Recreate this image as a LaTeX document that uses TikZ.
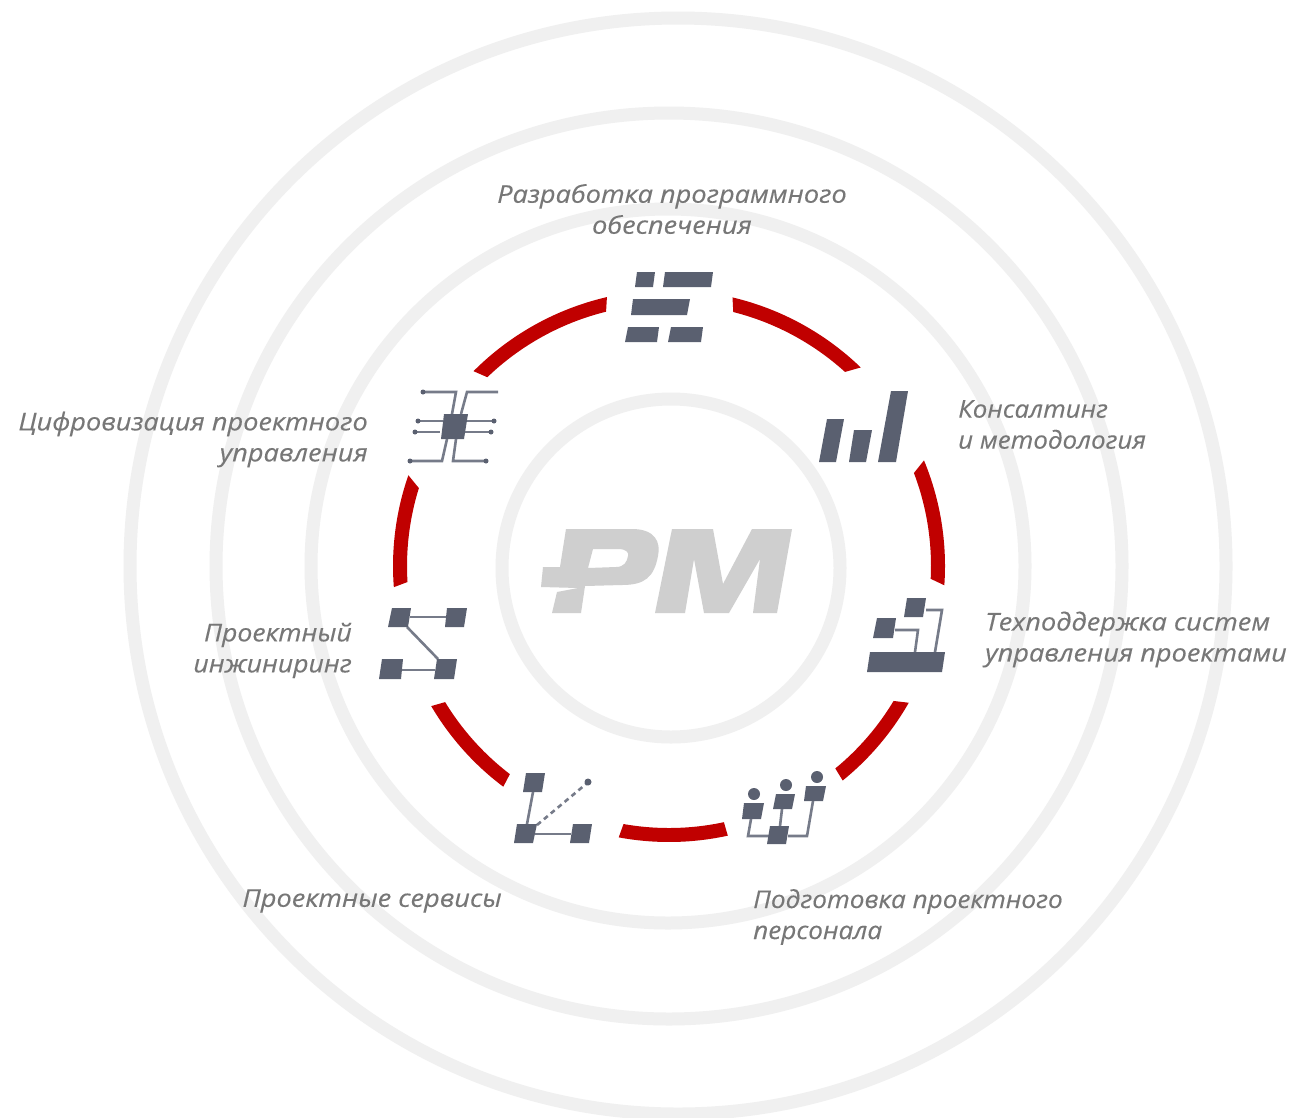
\documentclass[tikz,border=0pt]{standalone}
\usepackage{fontspec}
\setmainfont[FakeStretch=1.108,ItalicFeatures={FakeBold=0.25}]{Open Sans}
\definecolor{ringc}{HTML}{F0F0F0}
\definecolor{redc}{HTML}{C00000}
\definecolor{iconc}{HTML}{5A6070}
\definecolor{linkc}{HTML}{767B89}
\definecolor{logoc}{HTML}{CFCFCF}
\definecolor{textc}{HTML}{777777}
\tikzset{
  ring/.style={draw=ringc,line width=13pt},
  redarc/.style={fill=redc,draw=none},
  icon/.style={fill=iconc,draw=none},
  link/.style={draw=linkc,line width=2.6pt},
  label/.style={text=textc,inner sep=0pt,font=\fontsize{24.5}{31}\selectfont\itshape},
  stretched/.style={text=textc,inner sep=0pt,font=\fontsize{24.5}{31}\selectfont\itshape\addfontfeature{FakeStretch=#1}},
}
\begin{document}
\begin{tikzpicture}[x=1pt,y=-1pt]
\useasboundingbox (0,0) rectangle (1289,1117);
\fill[white] (0,0) rectangle (1289,1117);
\coordinate (c) at (669,566);
\draw[ring] (671,568) circle[radius=169];
\draw[ring] (668,566) circle[radius=357];
\draw[ring] (669,566) circle[radius=453];
\draw[ring] (678,566) circle[radius=548];
% red arcs: outer start / inner start / outer end / inner end angles
\foreach \a/\b/\e/\f in {-76.7/-75.8/-46/-47.8, -22.5/-20.8/4/2.8, 29.7/31/51/50.6, 77.7/77.9/100.5/100,
  126.9/127.4/149.5/148.7, 175.6/176.5/199.2/197.3, 224.9/226.1/257/256.1}{
  \fill[redarc] ([shift={(\a:276)}]c) arc[start angle=\a,end angle=\e,radius=276]
     -- ([shift={(\f:262)}]c) arc[start angle=\f,end angle=\b,radius=262] -- cycle;
}
% logo
\fill[logoc,even odd rule] (566,529) -- (632,529) .. controls (655,529) and (661,542) .. (658,556) .. controls (654,577) and (645,585) .. (622,585) -- (585,586) -- (581,613) -- (552,613) -- (557,592) -- (578,588) -- (541,587) -- (543,567) -- (560,567) -- cycle
 (593,549) -- (618,549) .. controls (627,549) and (629,553) .. (628,556) .. controls (627,562) and (624,567) .. (616,567) -- (588,568) -- cycle;
\fill[logoc] (672,529) -- (713,529) -- (723,584) -- (752,529) -- (792,529) -- (777,613) -- (753,613) -- (760,559) -- (729,613) -- (704,613) -- (694,559) -- (685,613) -- (655,613) -- cycle;
% software
\fill[icon] (637,272) -- (655,272) -- (653,287) -- (635,287) -- cycle;
\fill[icon] (665,272) -- (713,272) -- (711,287) -- (663,287) -- cycle;
\fill[icon] (633,299) -- (690,299) -- (687,315) -- (631,315) -- cycle;
\fill[icon] (628,327) -- (659,327) -- (657,342) -- (625,342) -- cycle;
\fill[icon] (671,327) -- (703,327) -- (701,342) -- (668,342) -- cycle;
% consulting
\fill[icon] (827,419) -- (844,419) -- (836,462) -- (819,462) -- cycle;
\fill[icon] (854,430) -- (872,430) -- (866,462) -- (849,462) -- cycle;
\fill[icon] (891,391) -- (908,391) -- (896,462) -- (878,462) -- cycle;
% support
\draw[link] (926,610) -- (942,610) -- (935,652);
\draw[link] (895,630) -- (918,630) -- (915,652);
\fill[icon] (907,598) -- (926,598) -- (923,617) -- (904,617) -- cycle;
\fill[icon] (877,618) -- (896,618) -- (893,638) -- (873,638) -- cycle;
\fill[icon] (870,652) -- (945,652) -- (942,672) -- (867,672) -- cycle;
% personnel
\draw[link] (751,819) -- (748,836) -- (770,836);
\draw[link] (782,809) -- (780,826);
\draw[link] (813,801) -- (807,836) -- (788,836);
\fill[icon] (754,794) circle[radius=6];
\fill[icon] (786,785) circle[radius=6];
\fill[icon] (817,777) circle[radius=6];
\fill[icon] (744,803) -- (764,803) -- (761,819) -- (742,819) -- cycle;
\fill[icon] (776,794) -- (795,794) -- (792,809) -- (773,809) -- cycle;
\fill[icon] (806,786) -- (826,786) -- (823,801) -- (804,801) -- cycle;
\fill[icon] (770,826) -- (789,826) -- (786,844) -- (767,844) -- cycle;
% services
\draw[link] (533,792) -- (527,824);
\draw[link] (535,834) -- (571,834);
\draw[link,dash pattern=on 5pt off 4pt] (537,825) -- (586,784);
\fill[icon] (588,782) circle[radius=3.5];
\fill[icon] (526,773) -- (545,773) -- (542,792) -- (523,792) -- cycle;
\fill[icon] (517,824) -- (537,824) -- (533,843) -- (514,843) -- cycle;
\fill[icon] (573,824) -- (592,824) -- (589,843) -- (570,843) -- cycle;
% engineering
\draw[link] (410,617) -- (446,617);
\draw[link] (407,627) -- (438,659);
\draw[link] (402,670) -- (435,670);
\fill[icon] (392,608) -- (411,608) -- (408,627) -- (388,627) -- cycle;
\fill[icon] (447,608) -- (467,608) -- (464,627) -- (445,627) -- cycle;
\fill[icon] (382,659) -- (403,659) -- (401,679) -- (379,679) -- cycle;
\fill[icon] (437,659) -- (457,659) -- (454,679) -- (434,679) -- cycle;
% digital
\draw[link] (423,392) -- (456,392) -- (452,414);
\draw[link] (498,392) -- (467,392) -- (461,414);
\draw[link] (418,421) -- (443,421);
\draw[link] (415,432) -- (440,432);
\draw[link] (494,421) -- (467,421);
\draw[link] (491,432) -- (465,432);
\draw[link] (410,461) -- (442,461) -- (447,439);
\draw[link] (486,461) -- (453,461) -- (456,439);
\foreach \p in {(423,392),(418,421),(415,432),(494,421),(491,432),(410,461),(486,461)}{
  \fill[icon] \p circle[radius=2.5];
}
\fill[icon] (444,414) -- (468,414) -- (464,439) -- (441,439) -- cycle;
% labels
\node[label,align=center] (l1) at (672,209) {Разработка программного\\обеспечения};
\node[stretched=1.058,align=left,anchor=west] (l2) at (958,424.5) {Консалтинг\\и методология};
\node[label,align=left,anchor=west] (l3) at (985,639.5) {Техподдержка систем\\управления проектами};
\node[stretched=1.067,align=left,anchor=west] (l4) at (753,917) {Подготовка проектного\\персонала};
\node[label,anchor=east] (l5) at (502,901) {Проектные сервисы};
\node[stretched=1.085,align=right,anchor=east] (l6) at (352,650.5) {Проектный\\инжиниринг};
\node[label,align=right,anchor=east] (l7) at (368,439.5) {Цифровизация проектного\\управления};
\end{tikzpicture}
\end{document}
